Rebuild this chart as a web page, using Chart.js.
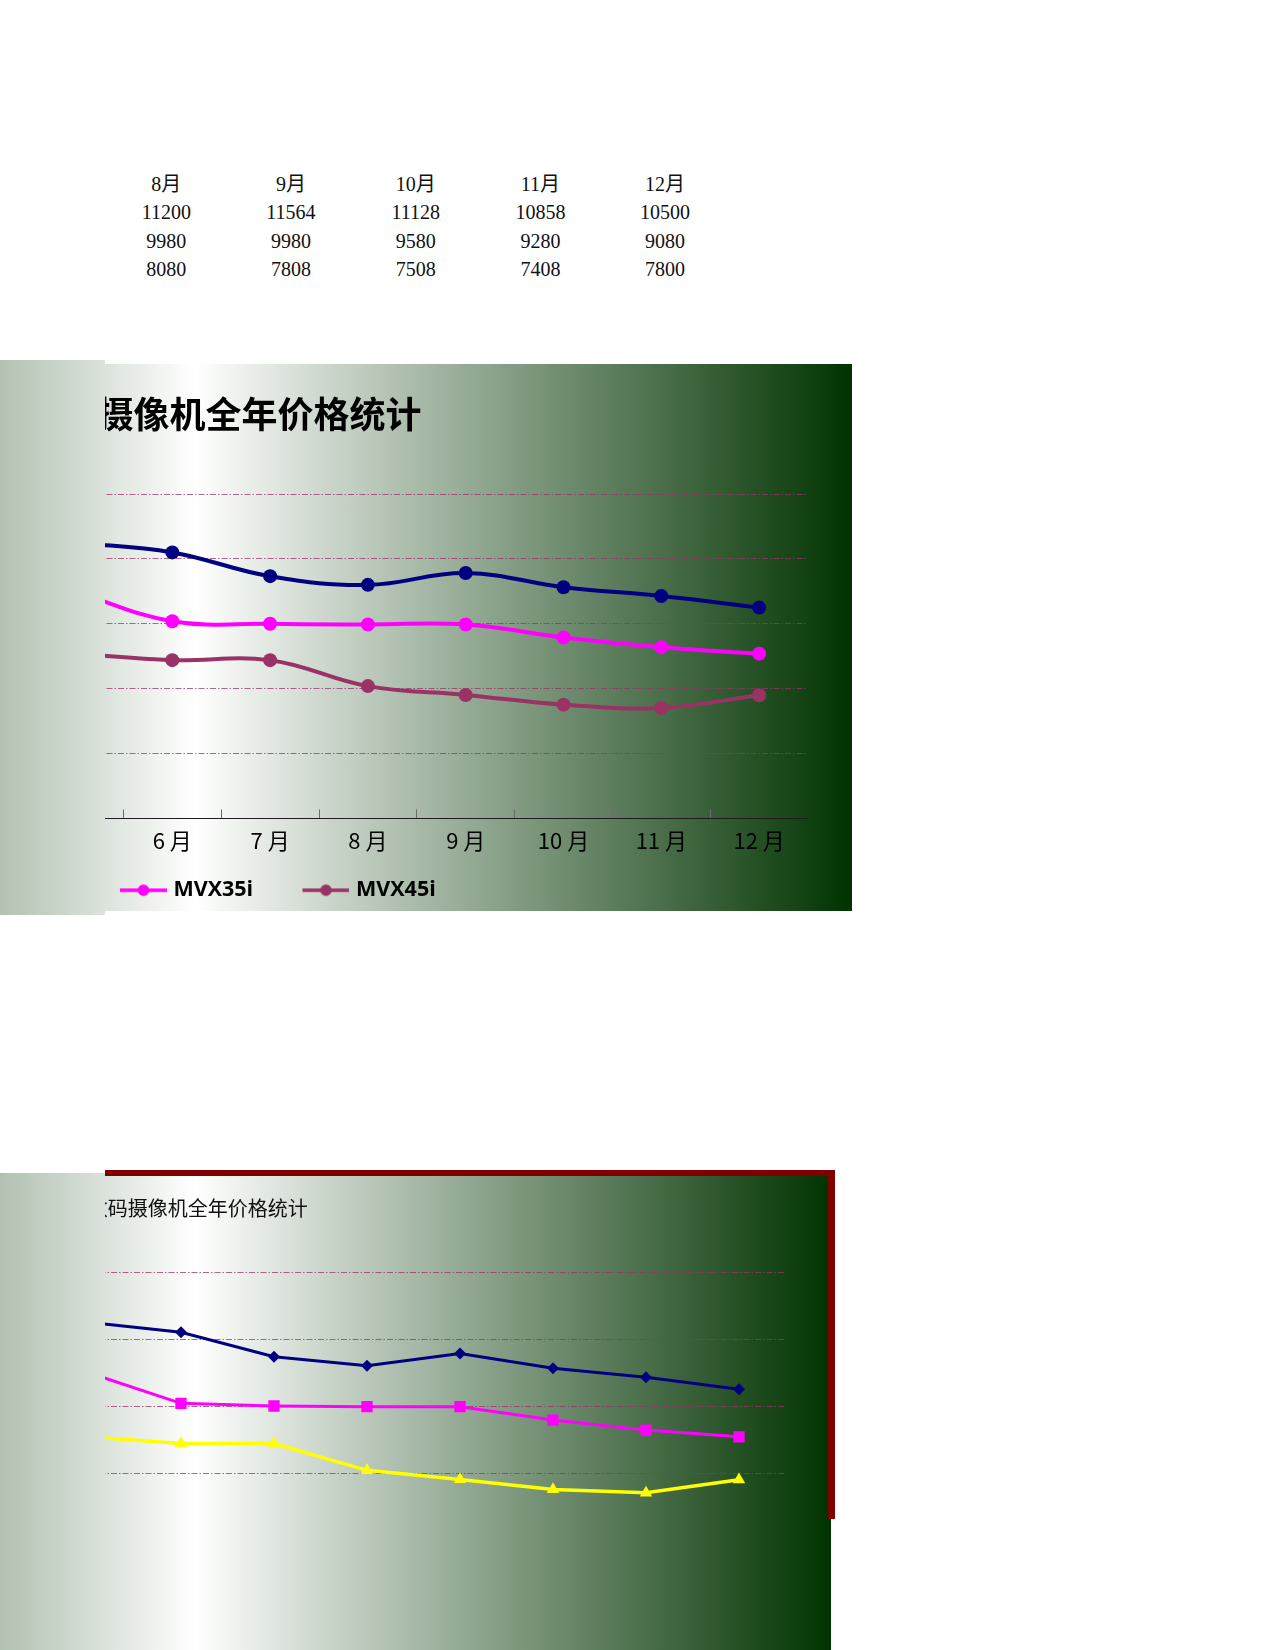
<!DOCTYPE html>
<html>
<head>
<meta charset="utf-8">
<script src="https://cdn.jsdelivr.net/npm/chart.js@4.4.1/dist/chart.umd.min.js"></script>
<style>
  body { margin: 0; width: 1275px; height: 1650px; background: #fff; position: relative; overflow: hidden; }
  .abs { position: absolute; }
  .cell { position: absolute; width: 124px; height: 28px; line-height: 28px; text-align: center;
          font-family: 'Liberation Serif', 'Noto Sans CJK SC', serif; font-size: 20px; color: #111; }
  .gradTop { background: linear-gradient(to right, rgb(178,194,178) 0px, #ffffff 195px, #003300 852px);
             background-size: 852px 100%; background-repeat: no-repeat; }
  .gradBot { background: linear-gradient(to right, rgb(177,193,177) 0px, #ffffff 195px, #003300 831px);
             background-size: 831px 100%; background-repeat: no-repeat; }
  .clip { position: absolute; overflow: hidden; }
  canvas { position: absolute; top: 0; }
</style>
</head>
<body>

<div id="table"></div>

<!-- upper chart -->
<div class="abs gradTop" style="left:0; top:360px; width:105px; height:555px;"></div>
<div class="clip gradTop" style="left:105px; top:364px; width:747px; height:547px; background-position:-105px 0;">
  <canvas id="chart1" width="920" height="547" style="left:-217px; width:920px; height:547px;"></canvas>
</div>

<!-- lower chart -->
<div class="abs gradBot" style="left:0; top:1173px; width:105px; height:477px;"></div>
<div class="abs gradBot" style="left:105px; top:1176px; width:726px; height:474px; background-position:-105px 0;"></div>
<div class="clip" style="left:105px; top:1176px; width:730px; height:343px;">
  <canvas id="chart2" width="1176" height="471" style="left:-495px; width:1176px; height:471px;"></canvas>
</div>
<div class="abs" style="left:105px; top:1170px; width:730px; height:6px; background:#800000;"></div>
<div class="abs" style="left:828px; top:1170px; width:7px; height:349px; background:#800000;"></div>

<script>
// data
const months = ['5 月', '6 月', '7 月', '8 月', '9 月', '10 月', '11 月', '12 月'];
const seriesNames = ['MVX25i', 'MVX35i', 'MVX45i'];
const priceA = [12500, 12200, 11468, 11200, 11564, 11128, 10858, 10500];
const priceB = [11000, 10080, 10000, 9980, 9980, 9580, 9280, 9080];
const priceC = [9080, 8880, 8880, 8080, 7808, 7508, 7408, 7800];
const yMin = 4000, yMax = 14000, yStep = 2000;
const tableFrom = 3; // table shows 8月 .. 12月

const title = '数码摄像机全年价格统计';
const navy = '#000080', magenta = '#ff00ff', plum = '#993366', yellow = '#ffff00';

// the little table above the charts
(function () {
  const box = document.getElementById('table');
  const rows = [
    months.slice(tableFrom).map(m => m.replace(' ', '')),
    priceA.slice(tableFrom),
    priceB.slice(tableFrom),
    priceC.slice(tableFrom)
  ];
  rows.forEach((row, r) => {
    row.forEach((v, c) => {
      const d = document.createElement('div');
      d.className = 'cell';
      d.style.left = (166.3 + c * 124.7 - 62) + 'px';
      d.style.top = (184 + r * 28.4 - 14) + 'px';
      d.textContent = v;
      box.appendChild(d);
    });
  });
})();

Chart.defaults.font.family = "'Noto Sans CJK SC', 'Noto Sans', sans-serif";
Chart.defaults.color = '#000';

const gridDash = [6, 2, 1.5, 2];
const gridColor = 'rgba(153,51,102,0.75)';

function yAxis(width) {
  return {
    min: yMin, max: yMax,
    ticks: { display: false, stepSize: yStep },
    grid: { color: gridColor, lineWidth: 1, drawTicks: false },
    border: { display: false, dash: gridDash },
    afterFit: s => { s.width = width; }
  };
}

// legend sample: line with a dot; drawn in the right part of a wider image
// so it sits just left of the label text
function legendMark(color) {
  const c = document.createElement('canvas');
  c.width = 74; c.height = 14;
  const g = c.getContext('2d');
  g.strokeStyle = color; g.lineWidth = 3.5;
  g.beginPath(); g.moveTo(27, 7); g.lineTo(74, 7); g.stroke();
  g.fillStyle = color;
  g.beginPath(); g.arc(50.5, 7, 5.8, 0, Math.PI * 2); g.fill();
  return c;
}
const colors1 = [navy, magenta, plum];
const marks = colors1.map(legendMark);

function smoothSet(i, values) {
  const c = colors1[i];
  return {
    label: seriesNames[i], data: values,
    borderColor: c, backgroundColor: c, borderWidth: 4,
    pointRadius: 7, pointHoverRadius: 7, pointBackgroundColor: c, pointBorderColor: c, pointBorderWidth: 0,
    tension: 0.4, fill: false
  };
}

new Chart(document.getElementById('chart1'), {
  type: 'line',
  data: {
    labels: months,
    datasets: [smoothSet(0, priceA), smoothSet(1, priceB), smoothSet(2, priceC)]
  },
  options: {
    responsive: false, animation: false,
    layout: { padding: 0, autoPadding: false },
    plugins: {
      title: {
        display: true, text: title, align: 'start', fullSize: false, color: '#000',
        font: { size: 36, weight: 'bold' }, padding: { top: 28.4, bottom: 58.4 }
      },
      legend: {
        position: 'bottom', align: 'start',
        labels: {
          usePointStyle: true, pointStyleWidth: 65.6, padding: 26.5, color: '#000',
          font: { family: "'Open Sans', sans-serif", size: 21.5, weight: 'bold' },
          generateLabels(chart) {
            const items = Chart.defaults.plugins.legend.labels.generateLabels(chart);
            items.forEach((it, i) => { it.pointStyle = marks[i]; });
            return items;
          }
        }
      },
      tooltip: { enabled: false }
    },
    scales: {
      x: {
        offset: true,
        grid: { offset: true, drawOnChartArea: false, drawTicks: true, tickLength: -9, tickColor: '#6b6b6b', tickWidth: 1 },
        border: { display: true, color: '#221a22', width: 1 },
        ticks: { color: '#000', font: { size: 22 }, padding: 18, autoSkip: false, maxRotation: 0 },
        afterFit: s => { s.height = 34.5; }
      },
      y: yAxis(137.6)
    }
  }
});

new Chart(document.getElementById('chart2'), {
  type: 'line',
  data: {
    labels: months,
    datasets: [
      { label: seriesNames[0], data: priceA, borderColor: navy, backgroundColor: navy, borderWidth: 3,
        pointStyle: 'rectRot', pointRadius: 6, pointBorderWidth: 0, tension: 0 },
      { label: seriesNames[1], data: priceB, borderColor: magenta, backgroundColor: magenta, borderWidth: 3,
        pointStyle: 'rect', pointRadius: 8, pointBorderWidth: 0, tension: 0 },
      { label: seriesNames[2], data: priceC, borderColor: yellow, backgroundColor: yellow, borderWidth: 3.5,
        pointStyle: 'triangle', pointRadius: 7.2, pointBorderWidth: 0, tension: 0 }
    ]
  },
  options: {
    responsive: false, animation: false,
    layout: { padding: { left: 0, right: 0.5, top: 0, bottom: 0 }, autoPadding: false },
    plugins: {
      title: {
        display: true, text: title, align: 'center', color: '#111',
        font: { size: 20, weight: 'normal' }, padding: { top: 20, bottom: 52 }
      },
      legend: { display: false },
      tooltip: { enabled: false }
    },
    scales: {
      x: {
        offset: true,
        grid: { offset: true, drawOnChartArea: false },
        border: { display: true, color: '#221a22' },
        ticks: { color: '#000', font: { size: 20 } },
        afterFit: s => { s.height = 40; }
      },
      y: yAxis(431.5)
    }
  }
});
</script>
</body>
</html>
